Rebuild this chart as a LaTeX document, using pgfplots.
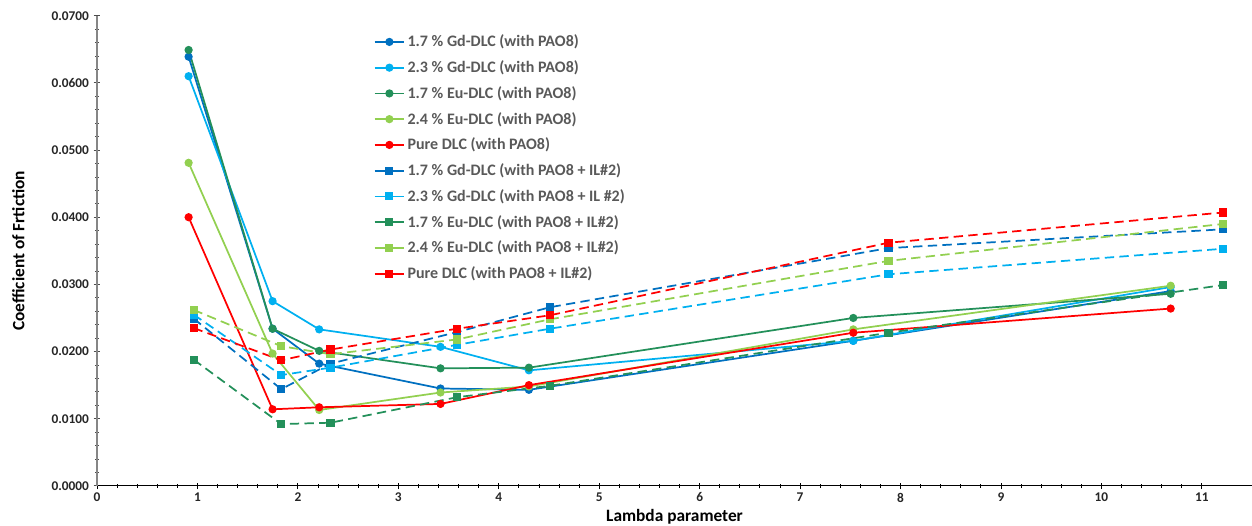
\documentclass[border=0pt]{standalone}
\usepackage{fontspec}
\setmainfont{Carlito}
\usepackage{pgfplots}
\pgfplotsset{compat=1.18}

\definecolor{gdA}{HTML}{0070C0}
\definecolor{gdB}{HTML}{00B0F0}
\definecolor{euA}{HTML}{23905A}
\definecolor{euB}{HTML}{92D050}
\definecolor{pure}{HTML}{FF0000}
\definecolor{txtgray}{HTML}{595959}
\definecolor{axgray}{HTML}{868686}

\begin{document}
\begin{tikzpicture}
\begin{axis}[
    name=ax,
    scale only axis,
    width=866pt, height=352.5pt,
    xmin=0, xmax=11.5,
    ymin=0, ymax=0.07,
    axis x line*=bottom,
    axis y line*=left,
    x axis line style={black, line width=0.8pt},
    y axis line style={axgray, line width=0.8pt},
    xtick={0,1,2,3,4,5,6,7,8,9,10,11},
    ytick={0,0.01,0.02,0.03,0.04,0.05,0.06,0.07},
    minor x tick num=4,
    minor y tick num=4,
    tick align=center,
    major tick length=5pt,
    minor tick length=3pt,
    x tick style={black, line width=0.6pt},
    y tick style={black!70, line width=0.6pt},
    scaled y ticks=false,
    /pgf/number format/assume math mode=true,
    yticklabel style={/pgf/number format/.cd, fixed, fixed zerofill, precision=4},
    xticklabel style={yshift=-1.5pt, inner sep=1pt},
    ticklabel style={font=\bfseries\normalsize, text=black!85},
    xlabel={Lambda parameter},
    ylabel={Coefficient of Frtiction},
    label style={font=\bfseries\fontsize{13}{15}\selectfont, inner sep=1pt},
    xlabel style={at={(axis description cs:0.5,0)}, anchor=center, yshift=-23.5pt},
    ylabel style={at={(axis description cs:0,0.5)}, anchor=center, yshift=59pt},
    legend cell align=left,
    legend style={at={(0.236,0.971)}, anchor=north west, draw=none, fill=none,
        font=\bfseries\large, text=txtgray, row sep=4.9pt},
    legend image code/.code={
        \draw[mark repeat=2, mark phase=2, solid]
        plot coordinates {(0pt,0pt) (11pt,0pt) (22pt,0pt)};},
    every axis plot/.append style={line width=1.3pt},
]

% solid lines: PAO8
\addplot[color=gdA, mark=*, mark size=2.4pt] coordinates {
(0.912,0.0639)(1.748,0.0234)(2.212,0.0182)(3.42,0.0145)(4.30,0.0143)(7.53,0.0216)(10.69,0.0290)};
\addlegendentry{1.7 \% Gd-DLC (with PAO8)}

\addplot[color=gdB, mark=*, mark size=2.4pt] coordinates {
(0.912,0.0610)(1.748,0.0275)(2.212,0.0233)(3.42,0.0207)(4.30,0.0172)(7.53,0.0216)(10.69,0.0296)};
\addlegendentry{2.3 \% Gd-DLC (with PAO8)}

\addplot[color=euA, mark=*, mark size=2.4pt] coordinates {
(0.912,0.0649)(1.748,0.0234)(2.212,0.0201)(3.42,0.0175)(4.30,0.0176)(7.53,0.0250)(10.69,0.0286)};
\addlegendentry{1.7 \% Eu-DLC (with PAO8)}

\addplot[color=euB, mark=*, mark size=2.4pt] coordinates {
(0.912,0.0481)(1.748,0.0197)(2.212,0.0113)(3.42,0.0139)(4.30,0.0148)(7.53,0.0233)(10.69,0.0298)};
\addlegendentry{2.4 \% Eu-DLC (with PAO8)}

\addplot[color=pure, mark=*, mark size=2.4pt] coordinates {
(0.912,0.0400)(1.748,0.0114)(2.212,0.0117)(3.42,0.0122)(4.30,0.0150)(7.53,0.0228)(10.69,0.0264)};
\addlegendentry{Pure DLC (with PAO8)}

% dashed lines: PAO8 + IL#2
\addplot[color=gdA, dash pattern=on 7pt off 4pt, mark=square*, mark size=2.4pt, mark options={solid}] coordinates {
(0.962,0.0249)(1.834,0.0144)(2.325,0.0182)(3.585,0.0229)(4.51,0.0266)(7.88,0.0354)(11.21,0.0382)};
\addlegendentry{1.7 \% Gd-DLC (with PAO8 + IL\#2)}

\addplot[color=gdB, dash pattern=on 7pt off 4pt, mark=square*, mark size=2.4pt, mark options={solid}] coordinates {
(0.962,0.0255)(1.834,0.0165)(2.325,0.0176)(3.585,0.0210)(4.51,0.0234)(7.88,0.0315)(11.21,0.0353)};
\addlegendentry{2.3 \% Gd-DLC (with PAO8 + IL \#2)}

\addplot[color=euA, dash pattern=on 7pt off 4pt, mark=square*, mark size=2.4pt, mark options={solid}] coordinates {
(0.962,0.0188)(1.834,0.0092)(2.325,0.0094)(3.585,0.0132)(4.51,0.0149)(7.88,0.0228)(11.21,0.0299)};
\addlegendentry{1.7 \% Eu-DLC (with PAO8 + IL\#2)}

\addplot[color=euB, dash pattern=on 7pt off 4pt, mark=square*, mark size=2.4pt, mark options={solid}] coordinates {
(0.962,0.0262)(1.834,0.0208)(2.325,0.0196)(3.585,0.0218)(4.51,0.0248)(7.88,0.0335)(11.21,0.0390)};
\addlegendentry{2.4 \% Eu-DLC (with PAO8 + IL\#2)}

\addplot[color=pure, dash pattern=on 7pt off 4pt, mark=square*, mark size=2.4pt, mark options={solid}] coordinates {
(0.962,0.0235)(1.834,0.0187)(2.325,0.0203)(3.585,0.0234)(4.51,0.0254)(7.88,0.0362)(11.21,0.0407)};
\addlegendentry{Pure DLC (with PAO8 + IL\#2)}

\end{axis}
\pgfresetboundingbox
\path ([xshift=-72.75pt, yshift=-29.5pt]ax.south west) rectangle ([yshift=11.8pt]ax.north east);
\end{tikzpicture}
\end{document}
